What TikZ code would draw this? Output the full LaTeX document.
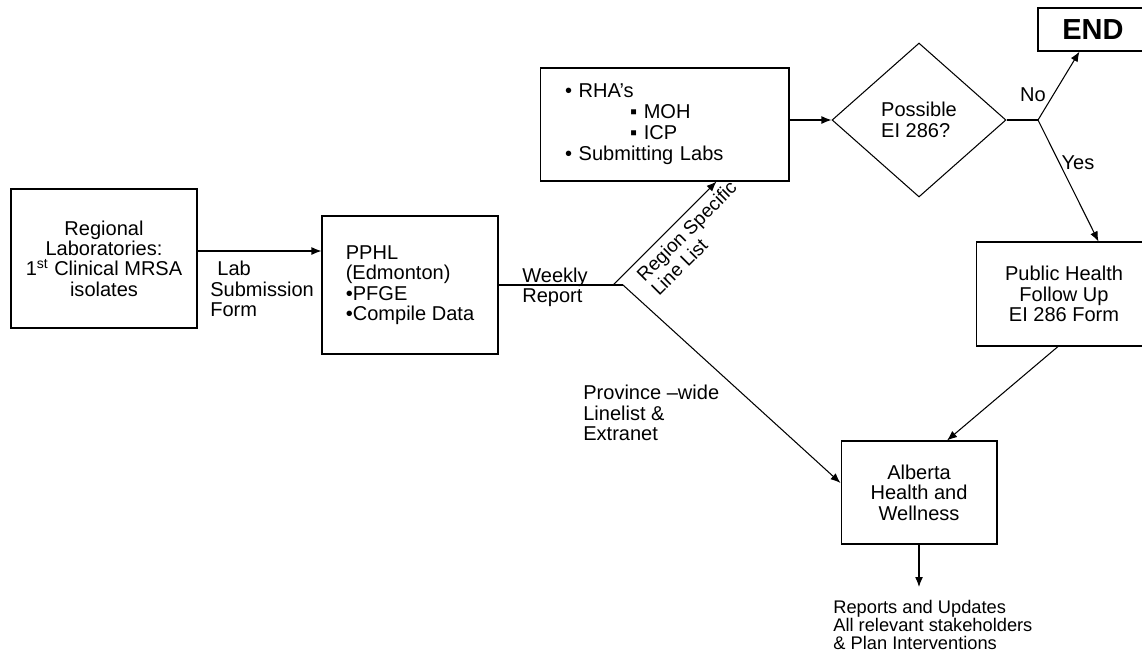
\documentclass[tikz,border=0pt]{standalone}
\usepackage{fontspec}
\setmainfont{Liberation Sans}
\usepackage{tikz}
\usetikzlibrary{shapes}
\usetikzlibrary{arrows.meta}
\usetikzlibrary{calc}
\tikzset{
  flownode/.style = {align=center, inner sep=0pt,
    font=\fontsize{11.4}{11.6}\selectfont},
  proc_box/.style = {flownode, rectangle, draw=black, line width=0.6pt},% etape du processus
  decision_node/.style = {flownode, diamond, draw=black, line width=0.6pt,
    minimum width=3.48cm, minimum height=3.08cm, align=left},% question oui / non
  end_box/.style = {proc_box, font=\bfseries\fontsize{16.5}{18}\selectfont},% fin
  edge_label/.style = {flownode, align=left},% texte sur les fleches
  flow_line/.style = {draw=black, line width=0.6pt},
  flow_arrow/.style = {flow_line, -{Latex[length=5.7pt, width=4.5pt]}}
}

\begin{document}
\begin{tikzpicture}[x=0.02cm, y=-0.02cm]
      \useasboundingbox (0,0) rectangle (1142,654);
      \clip (0,0) rectangle (1142,654);
      % boites
      \node [proc_box, minimum width=3.72cm, minimum height=2.78cm] (regional) at (104,258.5)
          {Regional\\Laboratories:\\1\textsuperscript{st} Clinical MRSA\\isolates};
      \node [proc_box, minimum width=3.52cm, minimum height=2.76cm, align=left] (pphl) at (410,285)
          {PPHL\\(Edmonton)\\•PFGE\\•Compile Data};
      \node [proc_box, font=\fontsize{11.4}{12}\selectfont, minimum height=2.26cm, text width=3.98cm,
          inner xsep=0.5cm, align=left] (rha) at (664.5,124.5)
          {• RHA’s\\\hspace*{37pt}▪ MOH\\\hspace*{37pt}▪ ICP\\• Submitting Labs};
      \node [decision_node] (dia) at (919,120) {Possible\\EI 286?};
      \node [end_box, minimum width=2.2cm, minimum height=0.86cm] (end_node) at (1093,29.5) {END};
      \node [proc_box, minimum width=3.52cm, minimum height=2.08cm] (followup) at (1064,294)
          {Public Health\\Follow Up\\EI 286 Form};
      \node [proc_box, minimum width=3.12cm, minimum height=2.06cm] (alberta) at (919,492.5)
          {Alberta\\Health and\\Wellness};
      % points de branchement
      \coordinate (split_up) at (613,285);
      \coordinate (split_down) at (623,285);
      \coordinate (decide) at (1038,120);
      \coordinate (report_tip) at (919,587);
      % fleches
      \draw [flow_arrow] ($(regional.east)+(0,-7.5)$) -- ($(regional.east -| pphl.west)+(0,-7.5)$);
      \draw [flow_line] (pphl.east) -- (split_down);
      \draw [flow_arrow] (split_up) -- ($(rha.south west)+(177,0)$);
      \draw [flow_arrow] (split_down) -- ($(alberta.west)+(0,-9.5)$);
      \draw [flow_arrow] (rha.east |- dia.west) -- (dia.west);
      \draw [flow_line] (dia.east) -- (decide);
      \draw [flow_arrow] (decide) -- ($(end_node.south west)+(42,0)$);
      \draw [flow_arrow] (decide) -- ($(followup.north west)+(123,0)$);
      \draw [flow_arrow] ($(followup.south)+(-6,0)$) -- ($(alberta.north)+(28,0)$);
      \draw [flow_arrow] (alberta.south) -- (report_tip);
      % etiquettes
      \node [edge_label, anchor=west] (lab_form) at (210,289) {\hspace*{4pt}Lab\\Submission\\Form};
      \node [edge_label, anchor=west] (weekly) at (522,287) {Weekly\\Report};
      \node [edge_label, font=\fontsize{10.8}{11.5}\selectfont, rotate=45, anchor=north west] (region_list)
          at (634.5,272.6) {Region Specific\\Line List};
      \node [edge_label, anchor=west] (province) at (583,413) {Province –wide\\Linelist \&\\Extranet};
      \node [edge_label] (no_label) at (1033,95) {No};
      \node [edge_label] (yes_label) at (1078,163) {Yes};
      \node [edge_label, font=\fontsize{10.4}{10.5}\selectfont, anchor=west] (reports) at (833,625)
          {Reports and Updates\\All relevant stakeholders\\\& Plan Interventions};
\end{tikzpicture}
\end{document}
